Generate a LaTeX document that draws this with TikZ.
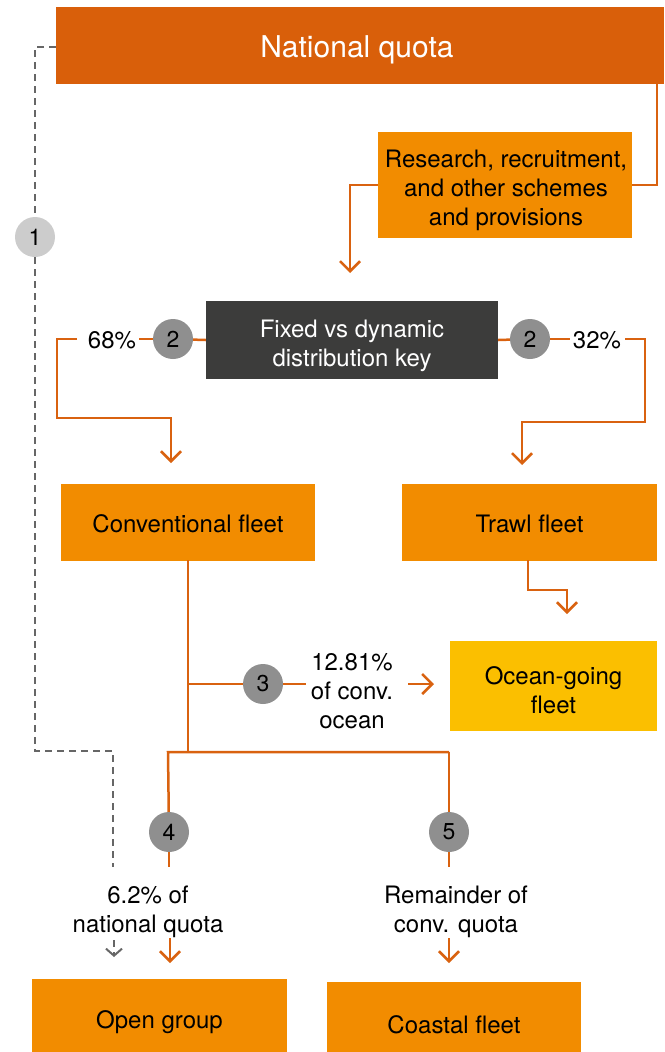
\documentclass[tikz,border=0pt]{standalone}
\usepackage{fontspec}
\setmainfont{TeX Gyre Heros}
\usetikzlibrary{arrows.meta}
\definecolor{nqc}{HTML}{D95F0A}
\definecolor{boxc}{HTML}{F28C00}
\definecolor{oceanc}{HTML}{FBBF00}
\definecolor{keyc}{HTML}{3C3C3B}
\definecolor{numc}{HTML}{8F8F8F}
\definecolor{numlc}{HTML}{CCCCCC}
\definecolor{linec}{HTML}{D96210}
\definecolor{grayc}{HTML}{666666}
\begin{document}
\begin{tikzpicture}[x=1pt,y=1pt,
  box/.style={fill=boxc, inner sep=0pt},
  btxt/.style={align=center, inner sep=0pt, text=black, font=\fontsize{24}{29}\selectfont},
  num/.style={circle, fill=numc, minimum size=40pt, inner sep=0pt, font=\fontsize{23}{26}\selectfont},
  lbl/.style={align=center, inner sep=5pt, font=\fontsize{24}{29}\selectfont},
  conn/.style={draw=linec, line width=2.5pt},
  arr/.style={conn, -{Straight Barb[length=10pt,width=20pt]}},
  dline/.style={draw=grayc, line width=2.5pt, dash pattern=on 7pt off 5pt},
]
\useasboundingbox (0,0) rectangle (664,-1052);

% boxes
\node[fill=nqc, minimum width=608pt, minimum height=77pt, inner sep=0pt] (nq) at (360,-45.5) {};
\node[btxt, text=white, font=\fontsize{30}{34}\selectfont] (nqt) at (357,-50) {National quota};
\node[box, minimum width=254pt, minimum height=106pt] (res) at (505,-185) {};
\node[btxt] (rest) at (506,-190) {Research, recruitment,\\and other schemes\\and provisions};
\node[fill=keyc, inner sep=0pt, minimum width=292pt, minimum height=78pt] (key) at (352,-340) {};
\node[btxt, text=white] (keyt) at (352,-346) {Fixed vs dynamic\\distribution key};
\node[box, minimum width=254pt, minimum height=77pt] (conv) at (188,-522) {};
\node[btxt] (convt) at (188,-524) {Conventional fleet};
\node[box, minimum width=255pt, minimum height=77pt] (trawl) at (529.5,-522) {};
\node[btxt] (trawlt) at (529.5,-524) {Trawl fleet};
\node[box, fill=oceanc, minimum width=207pt, minimum height=90pt] (ocean) at (553.5,-686) {};
\node[btxt] (oceant) at (553.5,-690) {Ocean-going\\fleet};
\node[box, minimum width=255pt, minimum height=86pt] (open) at (159.5,-1022) {};
\node[btxt] (opent) at (159.5,-1022) {Open group};
\node[box, minimum width=254pt, minimum height=86pt] (coast) at (454,-1025) {};
\node[btxt] (coastt) at (454,-1025) {Coastal fleet};

% number circles
\node[num, fill=numlc] (c1) at (35,-237) {1};
\node[num] (c2L) at (173,-339) {2};
\node[num] (c2R) at (530,-339) {2};
\node[num] (c3) at (263,-684) {3};
\node[num] (c4) at (169,-832) {4};
\node[num] (c5) at (449,-832) {5};

% labels
\node[lbl, inner sep=3pt] (p68) at (112,-340) {68\%};
\node[lbl, inner sep=3pt] (p32) at (597,-340) {32\%};
\node[lbl] (t3) at (352,-691) {12.81\%\\of conv.\\ocean};
\node[lbl] (t4) at (148,-912) {6.2\% of\\national quota};
\node[lbl] (t5) at (456,-912) {Remainder of\\conv. quota};

% coordinates
\coordinate (a1) at (657,-84);
\coordinate (a2) at (350,-273);
\coordinate (l0) at (77,-339);
\coordinate (l1) at (57,-339);
\coordinate (l2) at (57,-418);
\coordinate (l3) at (171,-418);
\coordinate (l4) at (171,-463);
\coordinate (r0) at (625,-339);
\coordinate (r1) at (645,-339);
\coordinate (r2) at (645,-422);
\coordinate (r3) at (522,-422);
\coordinate (r4) at (522,-465);
\coordinate (tw1) at (528,-560);
\coordinate (tw2) at (567,-590);
\coordinate (tw3) at (567,-614);
\coordinate (cv1) at (188,-560);
\coordinate (cv2) at (188,-753);
\coordinate (cv3) at (188,-684);
\coordinate (b1) at (168,-752);
\coordinate (b2) at (449,-752);
\coordinate (e4) at (169,-867);
\coordinate (e5) at (449,-867);
\coordinate (o1) at (408,-684);
\coordinate (o2) at (434,-684);
\coordinate (f1) at (170,-938);
\coordinate (f2) at (170,-963);
\coordinate (g1) at (449,-938);
\coordinate (g2) at (449,-963);
\coordinate (d0) at (56,-47);
\coordinate (d1) at (35,-47);
\coordinate (d2) at (35,-751);
\coordinate (d3) at (113,-751);
\coordinate (d4) at (113,-867);
\coordinate (h1) at (114,-940);
\coordinate (h2) at (114,-957);

% grey dashed
\draw[dline] (d0) -- (d1) -- (c1);
\draw[dline] (c1) -- (d2) -- (d3) -- (d4);
\draw[dline, line width=2pt, -{Straight Barb[length=7pt,width=16pt]}] (h1) -- (h2);

% connectors
\draw[conn] (a1) |- (res.east);
\draw[arr] (res.west) -| (a2);
\draw[conn] (key.west) -- (c2L);
\draw[conn] (c2L) -- (p68.east |- c2L);
\draw[arr] (l0) -- (l1) -- (l2) -- (l3) -- (l4);
\draw[conn] (key.east) -- (c2R);
\draw[conn] (c2R) -- (p32.west |- c2R);
\draw[arr] (r0) -- (r1) -- (r2) -- (r3) -- (r4);
\draw[arr] (tw1) |- (tw2) -- (tw3);
\draw[conn] (cv1) -- (cv2);
\draw[conn] (cv3) -- (c3);
\draw[conn] (c3) -- (t3.west |- c3);
\draw[arr] (o1) -- (o2);
\draw[conn] (b2) -- (b1) -- (c4);
\draw[conn] (c4) -- (e4);
\draw[conn] (b2) -- (c5);
\draw[conn] (c5) -- (e5);
\draw[arr] (f1) -- (f2);
\draw[arr] (g1) -- (g2);
\end{tikzpicture}
\end{document}
